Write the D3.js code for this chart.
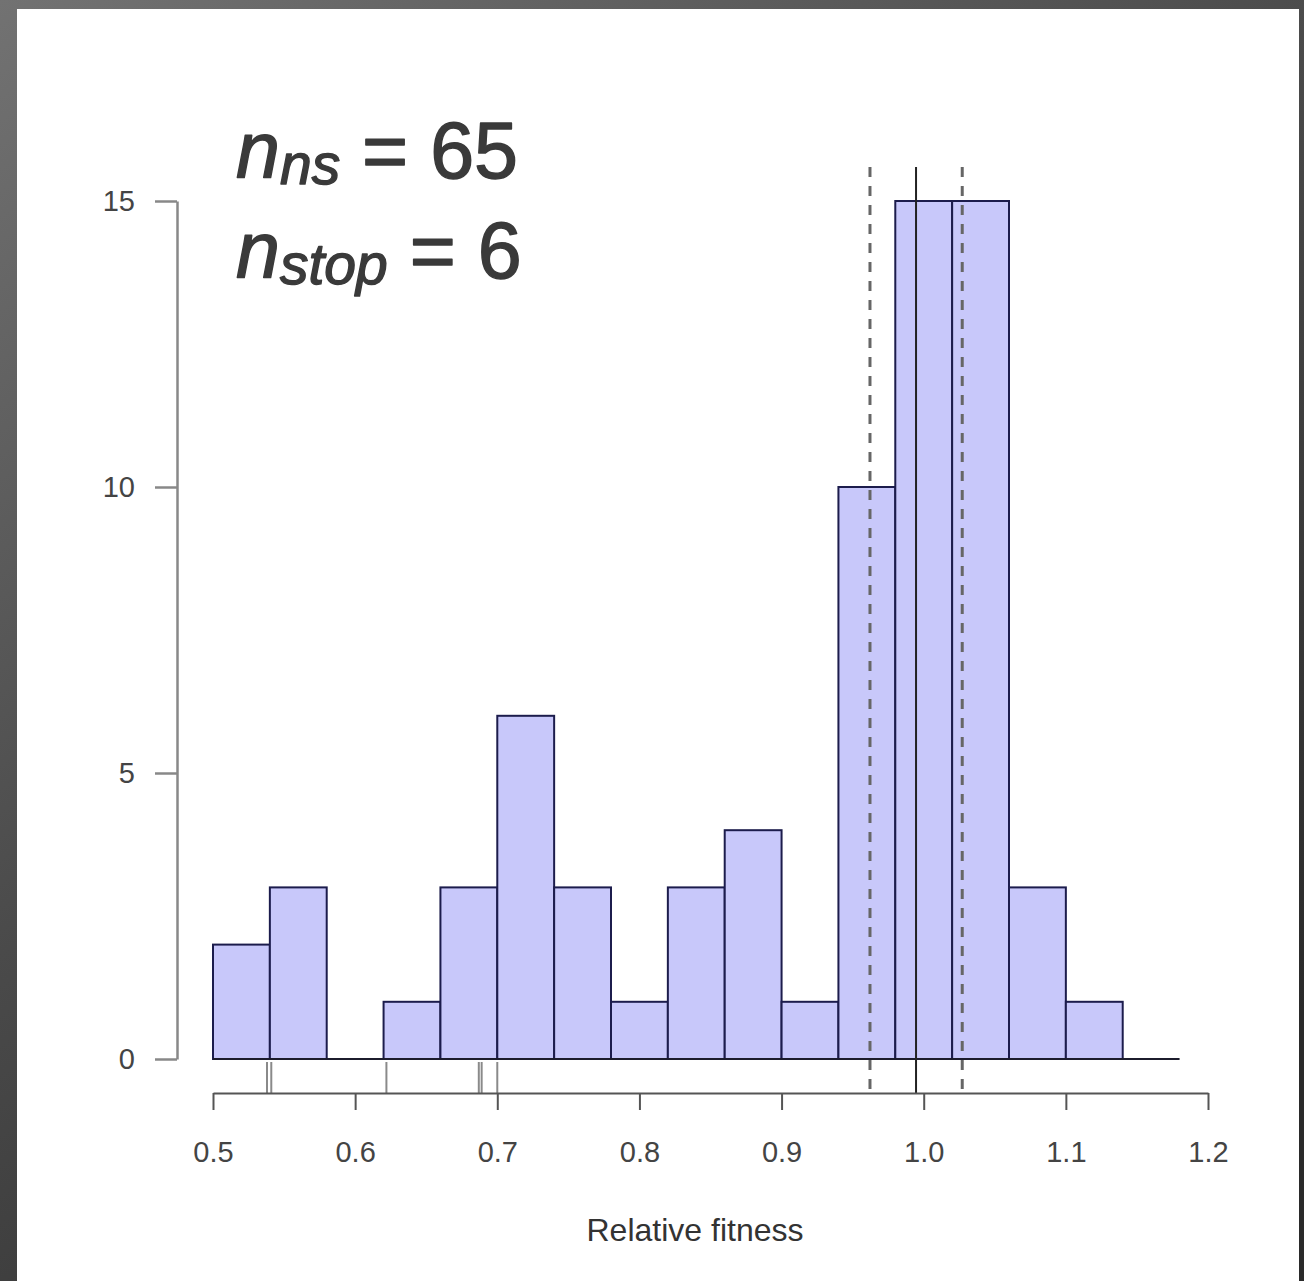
<!DOCTYPE html>
<html>
<head>
<meta charset="utf-8">
<script src="https://cdn.jsdelivr.net/npm/d3@7"></script>
<style>
  html, body { margin: 0; padding: 0; background: #444; }
  svg { display: block; }
</style>
</head>
<body>
<svg id="chart" width="1304" height="1281"></svg>
<script>
// ---- data ----
const binStarts = [0.50, 0.54, 0.58, 0.62, 0.66, 0.70, 0.74, 0.78, 0.82, 0.86, 0.90, 0.94, 0.98, 1.02, 1.06, 1.10, 1.14];
const binWidth = 0.04;
const counts    = [2, 3, 0, 1, 3, 6, 3, 1, 3, 4, 1, 10, 15, 15, 3, 1, 0];
const rugValues = [0.538, 0.541, 0.622, 0.687, 0.689, 0.700];
const meanLine = 0.9946;
const ciLines = [0.9622, 1.0271];
const xTicks = [0.5, 0.6, 0.7, 0.8, 0.9, 1.0, 1.1, 1.2];
const yTicks = [0, 5, 10, 15];
const xLabel = "Relative fitness";
const annotations = [
  { main: "n", sub: "ns", rest: " = 65" },
  { main: "n", sub: "stop", rest: " = 6" }
];

// ---- drawing ----
const svg = d3.select("#chart");
const defs = svg.append("defs");
const grad = defs.append("linearGradient").attr("id", "bg")
  .attr("x1", "0").attr("y1", "0").attr("x2", "0.7").attr("y2", "1");
grad.append("stop").attr("offset", "0").attr("stop-color", "#727272");
grad.append("stop").attr("offset", "0.5").attr("stop-color", "#4a4a4a");
grad.append("stop").attr("offset", "1").attr("stop-color", "#2a2a2a");

svg.append("rect").attr("width", 1304).attr("height", 1281).attr("fill", "url(#bg)");
svg.append("rect").attr("x", 17).attr("y", 9).attr("width", 1282).attr("height", 1272).attr("fill", "#ffffff");

const x = d3.scaleLinear().domain([0.5, 1.2]).range([213, 1208]);
const y = d3.scaleLinear().domain([0, 15]).range([1059, 201]);

// bars
svg.append("g").selectAll("rect").data(binStarts.map((s, i) => ({ s, c: counts[i] })).filter(d => d.c > 0))
  .join("rect")
  .attr("x", d => x(d.s))
  .attr("y", d => y(d.c))
  .attr("width", d => x(d.s + binWidth) - x(d.s))
  .attr("height", d => y(0) - y(d.c))
  .attr("fill", "#c8c8fa")
  .attr("stroke", "#1c1c4c")
  .attr("stroke-width", 2);

// baseline for empty bins
svg.append("line")
  .attr("x1", x(binStarts[0])).attr("x2", x(binStarts[binStarts.length - 1] + binWidth))
  .attr("y1", y(0)).attr("y2", y(0))
  .attr("stroke", "#1c1c2c").attr("stroke-width", 2);

// vertical lines
const vTop = 167, vBottom = 1093;
svg.append("line")
  .attr("x1", x(meanLine)).attr("x2", x(meanLine))
  .attr("y1", vTop).attr("y2", vBottom)
  .attr("stroke", "#222").attr("stroke-width", 2);
svg.append("g").selectAll("line").data(ciLines).join("line")
  .attr("x1", d => x(d)).attr("x2", d => x(d))
  .attr("y1", vTop).attr("y2", vBottom)
  .attr("stroke", "#666").attr("stroke-width", 3)
  .attr("stroke-dasharray", "10,9");

// rug
svg.append("g").selectAll("line").data(rugValues).join("line")
  .attr("x1", d => x(d)).attr("x2", d => x(d))
  .attr("y1", 1062).attr("y2", 1093)
  .attr("stroke", "#8a8a8a").attr("stroke-width", 2);

// x axis
const xAxis = svg.append("g").attr("transform", "translate(0,1093)")
  .call(d3.axisBottom(x).tickValues(xTicks).tickFormat(d3.format(".1f"))
    .tickSize(17).tickSizeOuter(0).tickPadding(31));
xAxis.select(".domain").attr("stroke", "#555").attr("stroke-width", 2);
xAxis.selectAll(".tick line").attr("stroke", "#555").attr("stroke-width", 2);
xAxis.selectAll(".tick text")
  .attr("font-family", "Liberation Sans, Arial, sans-serif")
  .attr("font-size", 29).attr("fill", "#444");

// y axis
const yAxis = svg.append("g").attr("transform", "translate(177,0)")
  .call(d3.axisLeft(y).tickValues(yTicks).tickFormat(d3.format("d"))
    .tickSize(22).tickSizeOuter(0).tickPadding(20));
yAxis.select(".domain").attr("stroke", "#888").attr("stroke-width", 2.5);
yAxis.selectAll(".tick line").attr("stroke", "#888").attr("stroke-width", 2.5);
yAxis.selectAll(".tick text")
  .attr("font-family", "Liberation Sans, Arial, sans-serif")
  .attr("font-size", 29).attr("fill", "#444");

// x label
svg.append("text")
  .attr("x", 695).attr("y", 1241)
  .attr("text-anchor", "middle")
  .attr("font-family", "Liberation Sans, Arial, sans-serif")
  .attr("font-size", 32).attr("fill", "#333")
  .text(xLabel);

// annotations
const annoBaselines = [178, 278];
const ann = svg.append("g");
annotations.forEach((a, i) => {
  const t = ann.append("text")
    .attr("x", 236).attr("y", annoBaselines[i])
    .attr("font-family", "Liberation Sans, Arial, sans-serif")
    .attr("fill", "#3a3a3a")
    .attr("stroke", "#3a3a3a").attr("stroke-width", 1.4)
    .attr("stroke-linejoin", "round");
  t.append("tspan").attr("font-style", "italic").attr("font-size", 79).text(a.main);
  t.append("tspan").attr("font-style", "italic").attr("font-size", 57).attr("dy", 6).text(a.sub);
  t.append("tspan").attr("font-size", 79).attr("dy", -6).text(a.rest);
});
</script>
</body>
</html>
